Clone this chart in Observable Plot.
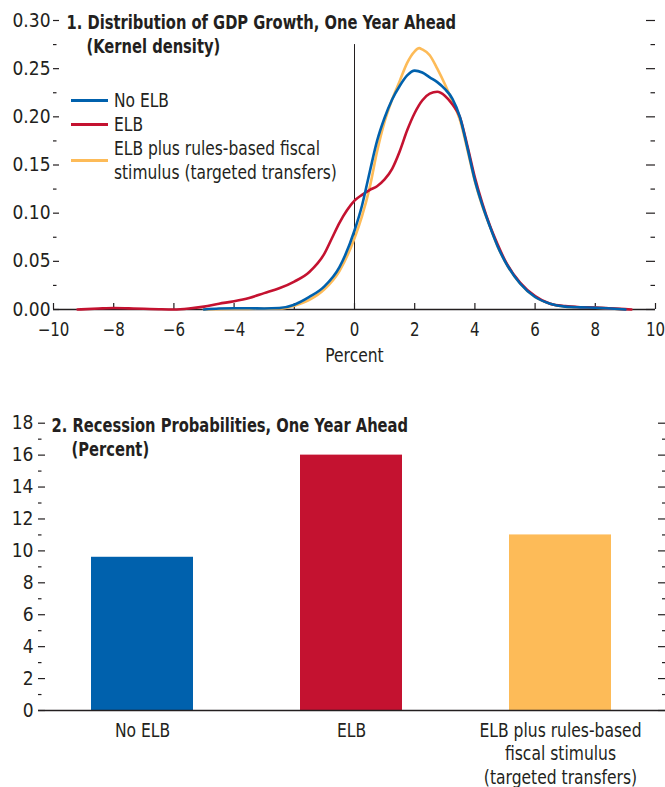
<!DOCTYPE html>
<html>
<head>
<meta charset="utf-8">
<script src="https://cdn.jsdelivr.net/npm/d3@7"></script>
<script src="https://cdn.jsdelivr.net/npm/@observablehq/plot@0.6"></script>
<style>
  body { margin: 0; background: #fff; }
  #wrap { position: relative; width: 665px; height: 787px; overflow: hidden;
          font-family: "DejaVu Sans Condensed", "Liberation Sans", sans-serif; color: #231f20; }
  #wrap svg { display: block; }
  .lg-line { position: absolute; height: 3px; width: 37px; }
  .lg-text { position: absolute; font-size: 19px; line-height: 24px; white-space: nowrap;
             transform: scaleX(0.905); transform-origin: 0 0; }
</style>
</head>
<body>
<div id="wrap"></div>
<script>
// ---------- Data: panel 1 (kernel densities) ----------
const seriesNames = ["No ELB", "ELB", "ELB plus rules-based fiscal stimulus (targeted transfers)"];
const seriesColors = ["#0061ad", "#c41230", "#fdbb58"];

const noElbX = [-5,-4.5,-4,-3.5,-3,-2.5,-2,-1.5,-1,-0.5,0,0.25,0.5,0.75,1,1.25,1.5,1.75,2,2.25,2.5,2.75,3,3.25,3.5,3.75,4,4.25,4.5,4.75,5,5.5,6,6.5,7,7.5,8,8.5,9];
const noElbY = [0,0.001,0.0013,0.0013,0.001,0.0015,0.005,0.013,0.024,0.044,0.082,0.108,0.142,0.175,0.199,0.218,0.232,0.243,0.248,0.246,0.241,0.236,0.229,0.219,0.200,0.168,0.134,0.108,0.086,0.066,0.050,0.027,0.013,0.006,0.003,0.0022,0.0018,0.001,0];

const elbX = [-9.2,-8.5,-8,-7.5,-7,-6.5,-6,-5.5,-5,-4.5,-4,-3.5,-3,-2.5,-2,-1.5,-1,-0.75,-0.5,-0.25,0,0.25,0.5,0.75,1,1.25,1.5,1.75,2,2.25,2.5,2.75,3,3.25,3.5,3.75,4,4.25,4.5,4.75,5,5.5,6,6.5,7,7.5,8,8.5,9.2];
const elbY = [0,0.001,0.0015,0.0012,0.0008,0.0003,0,0.001,0.003,0.006,0.0086,0.012,0.017,0.022,0.029,0.039,0.058,0.074,0.090,0.103,0.113,0.119,0.124,0.128,0.135,0.146,0.164,0.186,0.204,0.217,0.224,0.226,0.222,0.213,0.200,0.170,0.137,0.110,0.087,0.068,0.051,0.028,0.014,0.006,0.0035,0.0024,0.002,0.0012,0];

const fiscalX = [-5,-4,-3,-2.5,-2,-1.5,-1,-0.5,0,0.25,0.5,0.75,1,1.25,1.5,1.75,2,2.15,2.25,2.5,2.75,3,3.25,3.5,3.75,4,4.25,4.5,4.75,5,5.5,6,6.5,7,7.5,8,8.5,9];
const fiscalY = [0,0.0005,0.0008,0.001,0.004,0.010,0.021,0.040,0.074,0.097,0.126,0.164,0.195,0.218,0.237,0.256,0.268,0.2713,0.270,0.264,0.250,0.234,0.216,0.197,0.166,0.133,0.107,0.086,0.066,0.050,0.027,0.013,0.006,0.003,0.0022,0.0018,0.001,0];

const topXTicks = [-10,-8,-6,-4,-2,0,2,4,6,8,10];
const topYTicks = [0,0.05,0.10,0.15,0.20,0.25,0.30];
const topYMinor = [0.025,0.075,0.125,0.175,0.225,0.275];

// ---------- Data: panel 2 (recession probabilities) ----------
const barCategories = ["No ELB", "ELB", "ELB plus rules-based fiscal stimulus (targeted transfers)"];
const barLabels = ["No ELB", "ELB", "ELB plus rules-based\nfiscal stimulus\n(targeted transfers)"];
const barValues = [9.6, 16.0, 11.0];
const botYTicks = [0,2,4,6,8,10,12,14,16,18];
const botYMinor = [1,3,5,7,9,11,13,15,17];

const title1 = "1. Distribution of GDP Growth, One Year Ahead";
const sub1 = "(Kernel density)";
const title2 = "2. Recession Probabilities, One Year Ahead";
const sub2 = "(Percent)";

// ---------- Layout ----------
const FONT = '"DejaVu Sans Condensed", "Liberation Sans", sans-serif';
const INK = "#231f20";
const W = 665;

const toRows = (xs, ys, s) => xs.map((x, i) => ({x, y: ys[i], s}));
const densRows = [
  ...toRows(fiscalX, fiscalY, seriesNames[2]),
  ...toRows(elbX, elbY, seriesNames[1]),
  ...toRows(noElbX, noElbY, seriesNames[0])
];

const T = {h: 380, ml: 53, mr: 10, mt: 20, mb: 71};
const tIW = W - T.ml - T.mr, tIH = T.h - T.mt - T.mb;
const minus = d => d < 0 ? "\u2212" + Math.abs(d) : String(d);

const topPlot = Plot.plot({
  width: W, height: T.h,
  marginLeft: T.ml, marginRight: T.mr, marginTop: T.mt, marginBottom: T.mb,
  style: {fontFamily: FONT, fontSize: "19px", color: INK, background: "white", overflow: "visible"},
  x: {domain: [-10, 10]},
  y: {domain: [0, 0.30]},
  color: {domain: seriesNames, range: seriesColors},
  marks: [
    Plot.axisY(topYTicks, {anchor: "left", tickSize: 0, tickPadding: 3, tickFormat: d3.format(".2f"), label: null}),
    Plot.axisX(topXTicks, {anchor: "bottom", tickSize: 0, tickPadding: 13, tickFormat: minus, label: null}),
    // inward ticks
    Plot.ruleY(topYTicks, {y: d => d, stroke: INK, strokeWidth: 1.2, insetRight: tIW - 6}),
    Plot.ruleY(topYMinor, {y: d => d, stroke: INK, strokeWidth: 1.2, insetRight: tIW - 3.5}),
    Plot.ruleY(topYTicks, {y: d => d, stroke: INK, strokeWidth: 1.2, insetLeft: tIW - 9}),
    Plot.ruleY(topYMinor, {y: d => d, stroke: INK, strokeWidth: 1.2, insetLeft: tIW - 4.5}),
    Plot.ruleX(topXTicks, {x: d => d, stroke: INK, strokeWidth: 1.2, insetTop: tIH - 6}),
    Plot.ruleX([0], {x: d => d, y1: 0, y2: 0.275, stroke: INK, strokeWidth: 1}),
    Plot.ruleY([0], {stroke: INK, strokeWidth: 1.5}),
    Plot.line(densRows, {x: "x", y: "y", z: "s", stroke: "s", strokeWidth: 2.6, curve: "monotone-x"}),
    Plot.text([title1], {frameAnchor: "top-left", textAnchor: "start", lineAnchor: "top", dx: 13, dy: -5, fontWeight: "bold", fill: INK}),
    Plot.text([sub1], {frameAnchor: "top-left", textAnchor: "start", lineAnchor: "top", dx: 33, dy: 19, fontWeight: "bold", fill: INK}),
    Plot.text(["Percent"], {frameAnchor: "bottom", lineAnchor: "middle", dy: 46, fill: INK})
  ]
});

const B = {h: 407, ml: 38, mr: 0, mt: 42.7, mb: 77};
const bIW = W - B.ml - B.mr;
const barRows = barCategories.map((c, i) => ({c, v: barValues[i], label: barLabels[i]}));

const botPlot = Plot.plot({
  width: W, height: B.h,
  marginLeft: B.ml, marginRight: B.mr, marginTop: B.mt, marginBottom: B.mb,
  style: {fontFamily: FONT, fontSize: "19px", color: INK, background: "white", overflow: "visible"},
  x: {domain: barCategories, paddingInner: 0.51, paddingOuter: 0.255},
  y: {domain: [0, 18]},
  color: {domain: barCategories, range: seriesColors},
  marks: [
    Plot.barY(barRows, {x: "c", y: "v", fill: "c"}),
    Plot.axisY(botYTicks, {anchor: "left", tickSize: 0, tickPadding: 5, label: null}),
    Plot.axisX({anchor: "bottom", tickSize: 0, tickPadding: 9, lineHeight: 1.26, label: null,
                tickFormat: d => barLabels[barCategories.indexOf(d)]}),
    Plot.ruleY(botYTicks, {y: d => d, stroke: INK, strokeWidth: 1.2, insetRight: bIW - 7}),
    Plot.ruleY(botYMinor, {y: d => d, stroke: INK, strokeWidth: 1.2, insetRight: bIW - 3.5}),
    Plot.ruleY(botYTicks, {y: d => d, stroke: INK, strokeWidth: 1.2, insetLeft: bIW - 7}),
    Plot.ruleY(botYMinor, {y: d => d, stroke: INK, strokeWidth: 1.2, insetLeft: bIW - 3}),
    Plot.ruleY([0], {stroke: INK, strokeWidth: 1.5}),
    Plot.text([title2], {frameAnchor: "top-left", textAnchor: "start", lineAnchor: "top", dx: 13, dy: -5, fontWeight: "bold", fill: INK}),
    Plot.text([sub2], {frameAnchor: "top-left", textAnchor: "start", lineAnchor: "top", dx: 33, dy: 19, fontWeight: "bold", fill: INK})
  ]
});

const wrap = document.getElementById("wrap");
wrap.appendChild(topPlot);
wrap.appendChild(botPlot);

// Condense glyphs horizontally to imitate the narrow typeface of the original.
function condense(svg) {
  svg.querySelectorAll("text").forEach(t => {
    const g = t.closest("g[aria-label]");
    const role = g ? g.getAttribute("aria-label") : "";
    if (role === "y-axis tick label") return;
    const bold = +getComputedStyle(t).fontWeight >= 600 || t.getAttribute("font-weight") === "bold";
    const k = bold ? 0.86 : (role === "x-axis tick label" && svg === topPlot ? 0.88 : 0.91);
    const spans = t.querySelectorAll("tspan");
    const targets = spans.length ? Array.from(spans) : [t];
    targets.forEach(el => {
      const len = el.getComputedTextLength();
      if (len > 0) {
        el.setAttribute("textLength", (len * k).toFixed(2));
        el.setAttribute("lengthAdjust", "spacingAndGlyphs");
      }
    });
  });
}
condense(topPlot);
condense(botPlot);

// ---------- Legend (panel 1), HTML overlay ----------
const legendLayout = [
  {line: 100, text: 88, label: "No ELB"},
  {line: 124, text: 112, label: "ELB"},
  {line: 160, text: 136, label: "ELB plus rules-based fiscal<br>stimulus (targeted transfers)"}
];
legendLayout.forEach((L, i) => {
  const ln = document.createElement("div");
  ln.className = "lg-line";
  ln.style.left = "71px";
  ln.style.top = (L.line - 1.5) + "px";
  ln.style.background = seriesColors[i];
  wrap.appendChild(ln);
  const tx = document.createElement("div");
  tx.className = "lg-text";
  tx.style.left = "114px";
  tx.style.top = L.text + "px";
  tx.innerHTML = L.label;
  wrap.appendChild(tx);
});
</script>
</body>
</html>
